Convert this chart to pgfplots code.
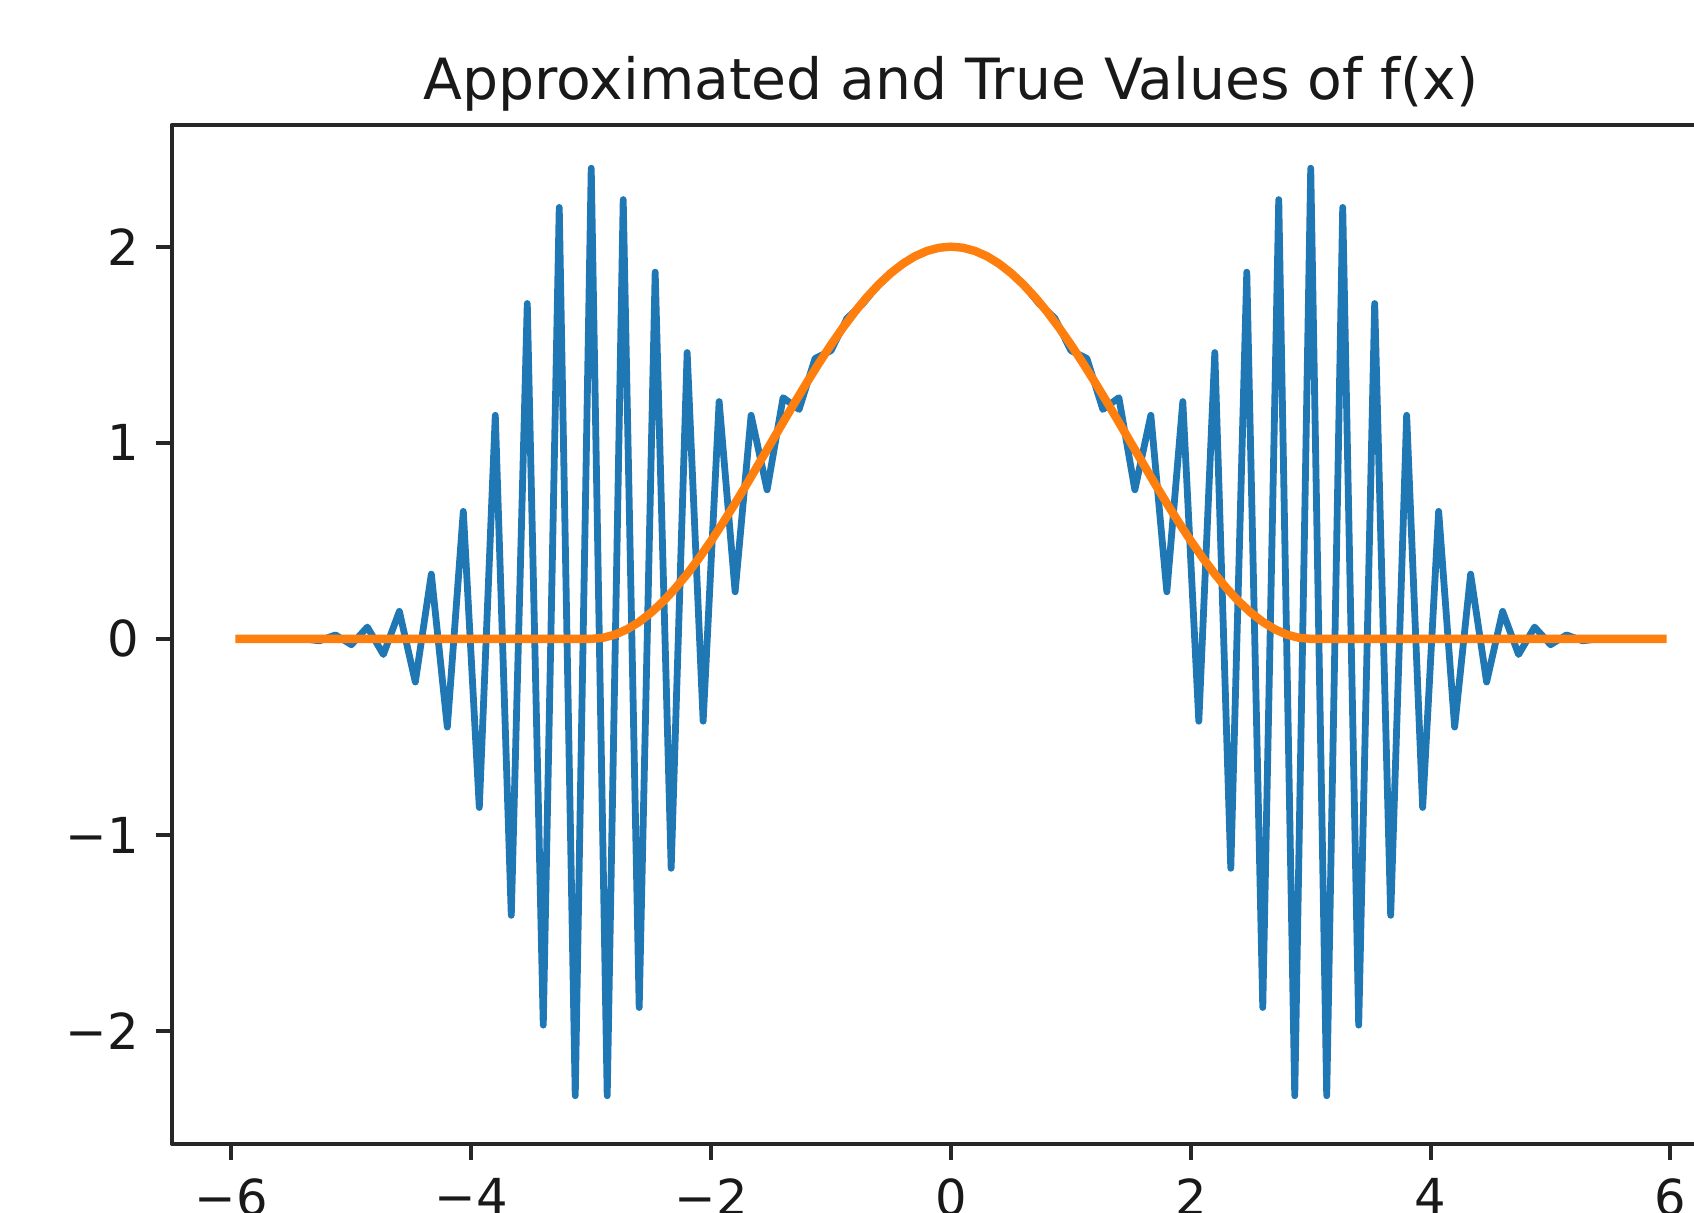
\documentclass[border=0pt]{standalone}
\usepackage{pgfplots}
\pgfplotsset{compat=1.18}
\usepackage{fontspec}
\setmainfont{DejaVu Sans}
\definecolor{mplblue}{HTML}{1F77B4}
\definecolor{mplorange}{HTML}{FF7F0E}
\definecolor{spine}{HTML}{262626}

% approximation, sampled at x = odd/15
\pgfplotstableread{
x y
-5.9333 0
-5.8000 0
-5.6667 0
-5.5333 0
-5.4000 0
-5.2667 -0.01
-5.1333 0.02
-5.0000 -0.03
-4.8667 0.06
-4.7333 -0.08
-4.6000 0.14
-4.4667 -0.22
-4.3333 0.33
-4.2000 -0.45
-4.0667 0.65
-3.9333 -0.86
-3.8000 1.14
-3.6667 -1.41
-3.5333 1.71
-3.4000 -1.97
-3.2667 2.20
-3.1333 -2.33
-3.0000 2.40
-2.8667 -2.33
-2.7333 2.24
-2.6000 -1.88
-2.4667 1.87
-2.3333 -1.17
-2.2000 1.46
-2.0667 -0.42
-1.9333 1.21
-1.8000 0.24
-1.6667 1.14
-1.5333 0.76
-1.4000 1.23
-1.2667 1.17
-1.1333 1.43
-1.0000 1.47
-0.8667 1.635
-0.7333 1.71
-0.6000 1.81
-0.4667 1.883
-0.3333 1.940
-0.2000 1.978
-0.0667 1.998
0.0667 1.998
0.2000 1.978
0.3333 1.940
0.4667 1.883
0.6000 1.81
0.7333 1.71
0.8667 1.635
1.0000 1.47
1.1333 1.43
1.2667 1.17
1.4000 1.23
1.5333 0.76
1.6667 1.14
1.8000 0.24
1.9333 1.21
2.0667 -0.42
2.2000 1.46
2.3333 -1.17
2.4667 1.87
2.6000 -1.88
2.7333 2.24
2.8667 -2.33
3.0000 2.40
3.1333 -2.33
3.2667 2.20
3.4000 -1.97
3.5333 1.71
3.6667 -1.41
3.8000 1.14
3.9333 -0.86
4.0667 0.65
4.2000 -0.45
4.3333 0.33
4.4667 -0.22
4.6000 0.14
4.7333 -0.08
4.8667 0.06
5.0000 -0.03
5.1333 0.02
5.2667 -0.01
5.4000 0
5.5333 0
5.6667 0
5.8000 0
5.9333 0
}\approxdata

% true values
\pgfplotstableread{
x y
-5.9333 0
-3.0 0
-2.9 0.0055
-2.8 0.0219
-2.7 0.0489
-2.6 0.0865
-2.5 0.1340
-2.4 0.1910
-2.3 0.2569
-2.2 0.3309
-2.1 0.4122
-2.0 0.5
-1.9 0.5933
-1.8 0.6910
-1.7 0.7921
-1.6 0.8955
-1.5 1.0
-1.4 1.1045
-1.3 1.2079
-1.2 1.3090
-1.1 1.4067
-1.0 1.5
-0.9 1.5878
-0.8 1.6691
-0.7 1.7431
-0.6 1.8090
-0.5 1.8660
-0.4 1.9135
-0.3 1.9511
-0.2 1.9781
-0.1 1.9945
0.0 2.0
0.1 1.9945
0.2 1.9781
0.3 1.9511
0.4 1.9135
0.5 1.8660
0.6 1.8090
0.7 1.7431
0.8 1.6691
0.9 1.5878
1.0 1.5
1.1 1.4067
1.2 1.3090
1.3 1.2079
1.4 1.1045
1.5 1.0
1.6 0.8955
1.7 0.7921
1.8 0.6910
1.9 0.5933
2.0 0.5
2.1 0.4122
2.2 0.3309
2.3 0.2569
2.4 0.1910
2.5 0.1340
2.6 0.0865
2.7 0.0489
2.8 0.0219
2.9 0.0055
3.0 0
5.9333 0
}\truedata

\begin{document}
\begin{tikzpicture}
\begin{axis}[
  at={(0,0)}, anchor=south west,
  width=389.7pt, height=254.6pt, scale only axis,
  xmin=-6.5, xmax=6.5, ymin=-2.574, ymax=2.62,
  axis line style={spine, line width=1pt},
  tick pos=left, tick align=outside,
  major tick length=4pt,
  tick style={spine, line width=1pt},
  xtick={-6,-4,-2,0,2,4,6},
  xticklabels={−6,−4,−2,0,2,4,6},
  ytick={-2,-1,0,1,2},
  yticklabels={−2,−1,0,1,2},
  every tick label/.append style={inner sep=0pt, font=\fontsize{12.4}{15}\selectfont, text=black!90},
  xticklabel style={anchor=north, yshift=-4.5pt},
  yticklabel style={anchor=east, xshift=-4.0pt},
  title={Approximated and True Values of f(x)},
  every axis title/.style={at={(0.5,1)}, anchor=base, yshift=6.4pt, inner sep=0pt, font=\fontsize{14.2}{17}\selectfont, text=black!90},
  line join=round,
]
\addplot [mplblue, line width=1.7pt, line cap=rect] table {\approxdata};
\addplot [mplorange, line width=2.1pt, line cap=rect] table {\truedata};
\end{axis}
\pgfresetboundingbox
\useasboundingbox (-42.875pt,-17.125pt) rectangle (380.6pt,285.875pt);
\end{tikzpicture}
\end{document}
